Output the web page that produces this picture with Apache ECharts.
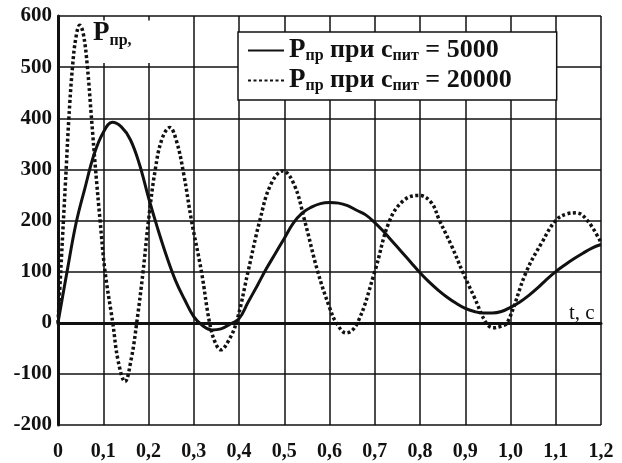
<!DOCTYPE html>
<html>
<head>
<meta charset="utf-8">
<script src="https://cdn.jsdelivr.net/npm/echarts@6/dist/echarts.min.js"></script>
<style>
  html, body { margin: 0; padding: 0; background: #fff; }
  #chart { width: 622px; height: 463px; }
</style>
</head>
<body>
<div id="chart"></div>
<script>
// Tick labels
const xTickLabels = ['0', '0,1', '0,2', '0,3', '0,4', '0,5', '0,6', '0,7', '0,8', '0,9', '1,0', '1,1', '1,2'];
const yTickLabels = ['-200', '-100', '0', '100', '200', '300', '400', '500', '600'];

// P_пр(t) at c_пит = 5000
const t5000 = [0, 0.02, 0.04, 0.06, 0.08, 0.10, 0.12, 0.14, 0.16, 0.18, 0.20, 0.22, 0.24, 0.26, 0.28, 0.30,
  0.32, 0.34, 0.36, 0.38, 0.40, 0.42, 0.44, 0.46, 0.48, 0.50, 0.52, 0.54, 0.56, 0.58, 0.60, 0.62, 0.64,
  0.66, 0.68, 0.70, 0.72, 0.74, 0.76, 0.78, 0.80, 0.82, 0.84, 0.86, 0.88, 0.90, 0.92, 0.94, 0.96, 0.98,
  1.00, 1.02, 1.04, 1.06, 1.08, 1.10, 1.12, 1.14, 1.16, 1.18, 1.20];
const p5000 = [0, 100, 195, 265, 330, 372, 392, 383, 358, 310, 245, 185, 130, 82, 45, 12,
  -6, -14, -12, -3, 8, 40, 72, 105, 135, 165, 195, 215, 226, 233, 235, 234, 229,
  220, 211, 196, 178, 158, 138, 118, 98, 80, 64, 50, 38, 28, 22, 19, 19, 22,
  30, 40, 53, 68, 85, 100, 113, 125, 136, 146, 153];

// P_пр(t) at c_пит = 20000
const t20000 = [0, 0.006, 0.012, 0.018, 0.024, 0.032, 0.040, 0.048, 0.056, 0.065, 0.074, 0.083, 0.093,
  0.104, 0.121, 0.133, 0.148, 0.162, 0.174, 0.188, 0.200, 0.215, 0.230, 0.247, 0.262, 0.278, 0.295,
  0.317, 0.335, 0.348, 0.360, 0.375, 0.394, 0.420, 0.446, 0.470, 0.497, 0.522, 0.545, 0.574, 0.600,
  0.615, 0.637, 0.662, 0.700, 0.733, 0.765, 0.798, 0.825, 0.843, 0.870, 0.894, 0.920, 0.946, 0.962,
  0.978, 0.993, 1.035, 1.070, 1.100, 1.125, 1.145, 1.170, 1.200];
const p20000 = [0, 100, 200, 300, 400, 500, 560, 582, 565, 500, 400, 300, 200,
  100, 0, -75, -115, -70, 0, 100, 200, 300, 360, 382, 355, 290, 200,
  100, 0, -40, -53, -38, 0, 100, 200, 270, 297, 270, 200, 100, 30,
  0, -20, 0, 100, 200, 240, 249, 235, 200, 150, 100, 50, 0, -10,
  -7, 0, 100, 158, 200, 213, 215, 200, 157];

const seriesNames = ['P5000', 'P20000'];
const legendText = {
  P5000: '{P|P}{s|пр}{n| при c}{s|пит}{n| = 5000}',
  P20000: '{P|P}{s|пр}{n| при c}{s|пит}{n| = 20000}'
};

const zip = (xs, ys) => xs.map((x, i) => [x, ys[i]]);

const FONT = 'Liberation Serif';
const INK = '#111';

const chart = echarts.init(document.getElementById('chart'), null, { renderer: 'canvas' });

chart.setOption({
  animation: false,
  backgroundColor: '#fff',
  grid: { left: 58, right: 21, top: 16, bottom: 38 },
  xAxis: {
    type: 'value',
    min: 0, max: 1.2, interval: 0.1,
    axisLine: { show: true, onZero: true, lineStyle: { color: INK, width: 3 } },
    axisTick: { show: false },
    axisLabel: {
      margin: 17,
      color: INK,
      fontFamily: FONT, fontWeight: 'bold', fontSize: 20,
      formatter: v => xTickLabels[Math.round(v * 10)]
    },
    splitLine: { show: true, lineStyle: { color: INK, width: 1.5 } }
  },
  yAxis: {
    type: 'value',
    min: -200, max: 600, interval: 100,
    axisLine: { show: true, lineStyle: { color: INK, width: 3 } },
    axisTick: { show: false },
    axisLabel: {
      margin: 6,
      color: INK,
      fontFamily: FONT, fontWeight: 'bold', fontSize: 21,
      formatter: v => yTickLabels[Math.round((v + 200) / 100)]
    },
    splitLine: { show: true, lineStyle: { color: INK, width: 1.5 } }
  },
  legend: {
    orient: 'vertical',
    left: 238, top: 32,
    padding: [5, 45, 6, 9],
    itemGap: 3,
    itemWidth: 36, itemHeight: 14,
    backgroundColor: '#fff',
    borderColor: INK, borderWidth: 1.5,
    itemStyle: { opacity: 0, color: 'rgba(0,0,0,0)', borderWidth: 0 },
    data: seriesNames,
    formatter: name => legendText[name],
    textStyle: {
      color: INK,
      rich: {
        P: { fontFamily: FONT, fontWeight: 'bold', fontSize: 27, lineHeight: 27 },
        n: { fontFamily: FONT, fontWeight: 'bold', fontSize: 26, lineHeight: 27 },
        s: { fontFamily: FONT, fontWeight: 'bold', fontSize: 16, lineHeight: 15, verticalAlign: 'bottom' }
      }
    }
  },
  graphic: [
    {
      type: 'text',
      left: 93, top: 20,
      z: 10,
      style: {
        text: '{P|P}{s|пр,}',
        rich: {
          P: { fontFamily: FONT, fontWeight: 'bold', fontSize: 27, lineHeight: 30, fill: INK },
          s: { fontFamily: FONT, fontWeight: 'bold', fontSize: 16, lineHeight: 16, verticalAlign: 'bottom', fill: INK }
        }
      }
    },
    {
      type: 'text',
      left: 569, top: 303,
      style: { text: 't, c', font: '21px "Liberation Serif"', fill: INK }
    }
  ],
  series: [
    {
      name: 'P5000',
      type: 'line',
      data: zip(t5000, p5000),
      smooth: 0.4,
      symbol: 'none',
      lineStyle: { color: INK, width: 3, type: 'solid' },
      itemStyle: { color: INK },
      z: 3,
      // the cell holding the P_пр caption has no inner grid lines
      markArea: {
        silent: true,
        itemStyle: { color: '#fff', opacity: 1 },
        data: [[{ coord: [0.012, 508] }, { coord: [0.288, 591] }]]
      }
    },
    {
      name: 'P20000',
      type: 'line',
      data: zip(t20000, p20000),
      smooth: 0.4,
      symbol: 'none',
      lineStyle: { color: INK, width: 3.5, type: [3, 2.5] },
      itemStyle: { color: INK },
      z: 4
    }
  ]
});
</script>
</body>
</html>
